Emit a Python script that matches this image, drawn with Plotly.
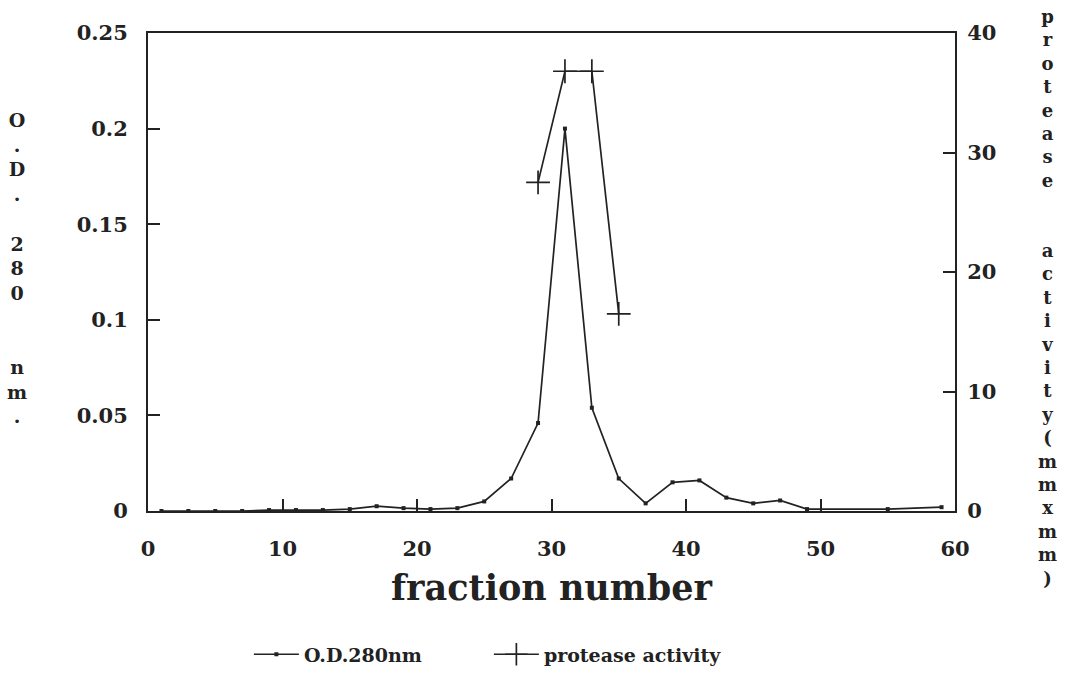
import plotly.graph_objects as go

# O.D. 280 nm data
od_fraction = [1, 3, 5, 7, 9, 11, 13, 15, 17, 19, 21, 23, 25, 27, 29, 31, 33, 35, 37, 39, 41, 43, 45, 47, 49, 55, 59]
od_values = [0.0, 0.0, 0.0, 0.0, 0.0005, 0.0005, 0.0005, 0.001, 0.0025, 0.0015, 0.001, 0.0015,
             0.005, 0.017, 0.046, 0.2, 0.054, 0.017, 0.004, 0.015, 0.016, 0.007, 0.004, 0.0055,
             0.001, 0.001, 0.002]

# protease activity data
pa_fraction = [29, 31, 33, 35]
pa_values = [27.5, 36.8, 36.8, 16.5]

x_ticks = [0, 10, 20, 30, 40, 50, 60]
y_ticks = [0, 0.05, 0.1, 0.15, 0.2, 0.25]
y_ticklabels = ["0", "0.05", "0.1", "0.15", "0.2", "0.25"]
y2_ticks = [0, 10, 20, 30, 40]

FONT = "DejaVu Serif"
INK = "#222"
fig = go.Figure()
fig.add_trace(go.Scatter(
    x=od_fraction, y=od_values, mode="lines+markers", name="O.D.280nm",
    line=dict(color=INK, width=1.7),
    marker=dict(symbol="square", size=4, color=INK),
))
fig.add_trace(go.Scatter(
    x=pa_fraction, y=pa_values, mode="lines+markers", name="protease activity",
    yaxis="y2",
    line=dict(color=INK, width=1.7),
    marker=dict(symbol="cross-thin", size=17, color=INK, line=dict(width=1.7, color=INK)),
))

tickfont = dict(family=FONT, size=21, color=INK, weight="bold")
fig.update_layout(
    width=1069, height=685,
    margin=dict(l=148, r=114, t=33, b=172),
    paper_bgcolor="white", plot_bgcolor="white",
    showlegend=True,
    legend=dict(orientation="h", x=0.125, xanchor="left", y=-0.30, yanchor="middle",
                font=dict(family=FONT, size=19, color=INK, weight="bold"),
                entrywidth=180, entrywidthmode="pixels", itemwidth=45,
                bgcolor="rgba(0,0,0,0)"),
    xaxis=dict(range=[0, 60], tickvals=x_ticks, ticks="inside", ticklen=12, tickwidth=1.5,
               tickcolor=INK, showline=True, linecolor=INK, linewidth=2, mirror=True,
               showgrid=False, zeroline=False, tickfont=tickfont, ticklabelstandoff=18),
    yaxis=dict(range=[0, 0.25], tickvals=y_ticks, ticktext=y_ticklabels, ticks="inside",
               ticklen=12, tickwidth=1.5, tickcolor=INK, showline=True, linecolor=INK,
               linewidth=2, showgrid=False, zeroline=False, tickfont=tickfont,
               ticklabelstandoff=14),
    yaxis2=dict(range=[0, 40], tickvals=y2_ticks, overlaying="y", side="right", ticks="inside",
                ticklen=12, tickwidth=1.5, tickcolor=INK, showline=True, linecolor=INK,
                linewidth=2, showgrid=False, zeroline=False, tickfont=tickfont,
                ticklabelstandoff=6),
)

left_title = "<br>".join(list("O.D.") + [" ", "2", "8", "0", " ", " ", "n", "m", "."])
right_title = "<br>".join(list("protease") + [" ", " "] + list("activity(mmxmm)"))
fig.add_annotation(text=left_title, xref="paper", yref="paper", x=-0.162, y=0.845,
                   xanchor="center", yanchor="top", showarrow=False, align="center",
                   font=dict(family=FONT, size=19, color=INK, weight="bold"))
fig.add_annotation(text=right_title, xref="paper", yref="paper", x=1.115, y=1.06,
                   xanchor="center", yanchor="top", showarrow=False, align="center",
                   font=dict(family=FONT, size=18, color=INK, weight="bold"))
fig.add_annotation(text="fraction number", xref="paper", yref="paper", x=0.5, y=-0.16,
                   xanchor="center", yanchor="middle", showarrow=False,
                   font=dict(family=FONT, size=35, color=INK, weight="bold"))

fig.write_html("out.html")
